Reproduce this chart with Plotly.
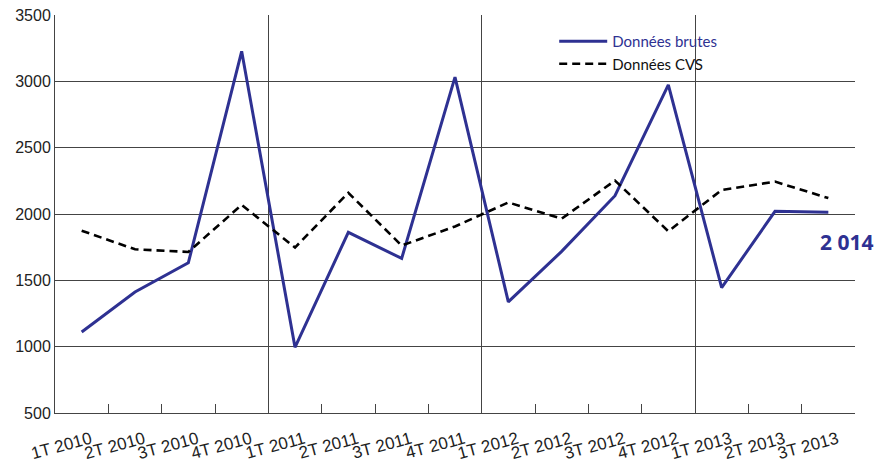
import plotly.graph_objects as go

categories = ["1T 2010", "2T 2010", "3T 2010", "4T 2010",
              "1T 2011", "2T 2011", "3T 2011", "4T 2011",
              "1T 2012", "2T 2012", "3T 2012", "4T 2012",
              "1T 2013", "2T 2013", "3T 2013"]
brutes = [1110, 1412, 1632, 3226, 995, 1862, 1665, 3032,
          1338, 1718, 2138, 2974, 1445, 2020, 2014]
cvs = [1874, 1734, 1714, 2069, 1747, 2160, 1762, 1906,
       2087, 1965, 2252, 1870, 2181, 2244, 2120]
y_ticks = [500, 1000, 1500, 2000, 2500, 3000, 3500]
year_bounds = [3.5, 7.5, 11.5]

BLUE = "#2E3192"
GRID = "#444444"
x_range = [-0.5, len(categories) - 0.5]

fig = go.Figure()
fig.add_trace(go.Scatter(
    x=categories, y=brutes, mode="lines",
    name=f'<span style="color:{BLUE}">Données brutes</span>',
    line=dict(color=BLUE, width=3)))
fig.add_trace(go.Scatter(
    x=categories, y=cvs, mode="lines",
    name="Données CVS",
    line=dict(color="#000000", width=2.6, dash="8px,5px")))
# empty helper trace for the year separator axis
fig.add_trace(go.Scatter(x=[None], y=[None], xaxis="x2", showlegend=False,
                         hoverinfo="skip"))

last_label = f"{brutes[-1]:,}".replace(",", " ")
fig.add_annotation(x=categories[-1], y=brutes[-1], text=f"<b>{last_label}</b>",
                   showarrow=False, xshift=19, yshift=-30,
                   font=dict(family="Noto Sans", size=21, color=BLUE))

fig.update_layout(
    width=883, height=455,
    margin=dict(l=47, r=36, t=7, b=50),
    paper_bgcolor="white", plot_bgcolor="white",
    font=dict(family="Liberation Sans, Arial, sans-serif", size=15, color="#222"),
    showlegend=True,
    legend=dict(x=0.624, y=0.975, xanchor="left", yanchor="top",
                bgcolor="rgba(0,0,0,0)", itemwidth=48,
                font=dict(family="Lato, Noto Sans, sans-serif", size=15, color="#111"),
                tracegroupgap=0),
    xaxis=dict(type="category", range=x_range, tickson="boundaries", ticks="inside",
               ticklen=9, tickcolor=GRID, tickwidth=1, showgrid=False, showline=True,
               linecolor=GRID, linewidth=1, tickangle=-15, automargin=False,
               ticklabelstandoff=9, ticklabelshift=9, ticklabeloverflow="allow",
               tickfont=dict(size=17, color="#222")),
    xaxis2=dict(overlaying="x", anchor="y", range=x_range,
                tickvals=year_bounds, showgrid=True, gridcolor=GRID, gridwidth=1,
                showticklabels=False, ticks="", showline=False, zeroline=False),
    yaxis=dict(range=[500, 3500], tickvals=y_ticks, showgrid=True, gridcolor=GRID,
               gridwidth=1, showline=True, linecolor=GRID, linewidth=1, ticks="",
               zeroline=False, automargin=False, ticklabeloverflow="allow",
               tickfont=dict(size=16, color="#222")),
)

fig.write_html("out.html")
